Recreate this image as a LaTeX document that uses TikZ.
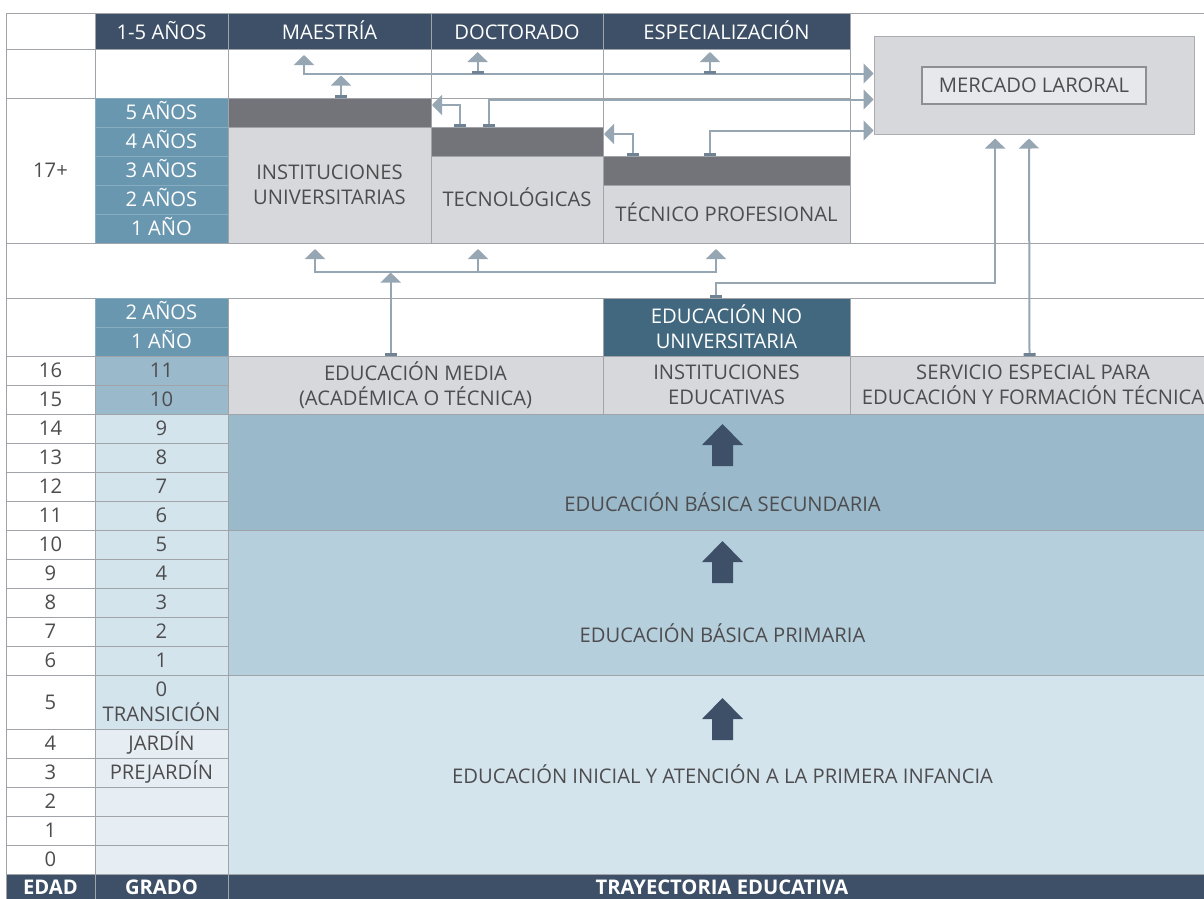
\documentclass[tikz,border=0pt]{standalone}
\usepackage{fontspec}
\setmainfont{Open Sans}
\usetikzlibrary{arrows.meta,calc}
\definecolor{navy}{HTML}{3D5068}
\definecolor{steel}{HTML}{6A97B0}
\definecolor{steelline}{HTML}{88ADC0}
\definecolor{tealc}{HTML}{42687F}
\definecolor{medblue}{HTML}{9AB9CB}
\definecolor{ltbluetwo}{HTML}{B6CFDD}
\definecolor{ltblue}{HTML}{D4E4ED}
\definecolor{vltblue}{HTML}{E6EEF4}
\definecolor{ltgray}{HTML}{D7D8DC}
\definecolor{dkgray}{HTML}{737479}
\definecolor{gridc}{HTML}{A0A3A7}
\definecolor{arrc}{HTML}{97A6B3}
\definecolor{barc}{HTML}{6F8394}
\definecolor{txtc}{HTML}{4D4D4F}
\definecolor{mercin}{HTML}{E7E8EB}
\definecolor{mercline}{HTML}{ABADB1}
\definecolor{mercinline}{HTML}{8D8F93}
\newcommand\fs{\fontsize{20.2}{25}\selectfont}
\newcommand\mkcell[7]{\node[cell,#6,minimum width={((#4)-(#2))*1pt},minimum height={((#5)-(#3))*1pt}] (#1) at ({((#2)+(#4))/2},{((#3)+(#5))/2}) {#7};}
\tikzset{
  cell/.style={draw=gridc,line width=0.8pt,inner sep=0pt,outer sep=0pt,align=center,text=txtc,font=\fs},
  one/.style={text height=14.4pt,text depth=0pt},
  steelcell/.style={fill=steel,draw=steelline,text=white,one},
  lbl/.style={text=txtc,font=\fs,inner sep=0pt},
  conn/.style={draw=arrc,line width=2pt},
  tri/.tip={Triangle[width=20pt,length=10pt]},
  tbar/.tip={Bar[width=12pt,line width=3pt,color=barc]}
}
\begin{document}
\begin{tikzpicture}[x=1pt,y=-1pt]
\useasboundingbox (0,0) rectangle (1204,898);
\fill[white] (0,0) rectangle (1204,898);
% header row
\mkcell{eHead}{6}{13}{95}{49}{fill=white}{}
\mkcell{h1}{95}{13}{228}{51}{fill=navy,text=white,one}{1-5 AÑOS}
\mkcell{hM}{228}{13}{431}{51}{fill=navy,text=white,one}{MAESTRÍA}
\mkcell{hD}{431}{13}{603}{51}{fill=navy,text=white,one}{DOCTORADO}
\mkcell{hE}{603}{13}{850}{51}{fill=navy,text=white,one}{ESPECIALIZACIÓN}
\draw[gridc,line width=0.8pt] (hE.north east) -- ++(370,0);
% second row
\mkcell{eTwo}{6}{49}{95}{98}{fill=white}{}
\mkcell{gTwo}{95}{49}{228}{98}{fill=white}{}
\mkcell{mTwo}{228}{49}{431}{98}{fill=white}{}
\mkcell{dTwo}{431}{49}{603}{98}{fill=white}{}
\mkcell{sTwo}{603}{49}{850}{98}{fill=white}{}
% 17+ block
\mkcell{age17}{6}{98}{95}{243}{fill=white,one}{17+}
\foreach \t [count=\k from 0] in {5 AÑOS,4 AÑOS,3 AÑOS,2 AÑOS,1 AÑO}
  {\mkcell{gy\k}{95}{98+29*\k}{228}{127+29*\k}{steelcell}{\t}}
\mkcell{iuBar}{228}{98}{431}{127}{fill=dkgray}{}
\mkcell{iu}{228}{127}{431}{243}{fill=ltgray}{INSTITUCIONES\\UNIVERSITARIAS}
\mkcell{wA}{431}{98}{603}{127}{fill=white}{}
\mkcell{tecBar}{431}{127}{603}{156}{fill=dkgray}{}
\mkcell{tec}{431}{156}{603}{243}{fill=ltgray,one}{TECNOLÓGICAS}
\mkcell{wB}{603}{98}{850}{156}{fill=white}{}
\mkcell{tpBar}{603}{156}{850}{185}{fill=dkgray}{}
\mkcell{tp}{603}{185}{850}{243}{fill=ltgray,one}{TÉCNICO PROFESIONAL}
% white band
\mkcell{band}{6}{243}{1216}{298}{fill=white}{}
% 298-356
\mkcell{ageNU}{6}{298}{95}{356}{fill=white}{}
\mkcell{gNa}{95}{298}{228}{327}{steelcell}{2 AÑOS}
\mkcell{gNb}{95}{327}{228}{356}{steelcell}{1 AÑO}
\mkcell{wC}{228}{298}{603}{356}{fill=white}{}
\mkcell{enu}{603}{298}{850}{356}{fill=tealc,text=white}{EDUCACIÓN NO\\UNIVERSITARIA}
\mkcell{wD}{850}{298}{1216}{356}{fill=white}{}
% 356-414
\mkcell{em}{228}{356}{603}{414}{fill=ltgray}{EDUCACIÓN MEDIA\\(ACADÉMICA O TÉCNICA)}
\mkcell{ie}{603}{356}{850}{414}{fill=ltgray}{INSTITUCIONES\\EDUCATIVAS}
\mkcell{se}{850}{356}{1216}{414}{fill=ltgray}{SERVICIO ESPECIAL PARA\\EDUCACIÓN Y FORMACIÓN TÉCNICA}
% big areas
\mkcell{bs}{228}{414}{1216}{530}{fill=medblue}{}
\mkcell{bp}{228}{530}{1216}{675}{fill=ltbluetwo}{}
\mkcell{ei}{228}{675}{1216}{874}{fill=ltblue}{}
% ages
\foreach \t [count=\k from 0] in {16,15,14,13,12,11,10,9,8,7,6}
  {\mkcell{age\t}{6}{356+29*\k}{95}{385+29*\k}{fill=white,one}{\t}}
\mkcell{age5}{6}{675}{95}{729}{fill=white,one}{5}
\foreach \t [count=\k from 0] in {4,3,2,1,0}
  {\mkcell{age\t}{6}{729+29*\k}{95}{758+29*\k}{fill=white,one}{\t}}
% grades
\mkcell{gr11}{95}{356}{228}{385}{fill=medblue,one}{11}
\mkcell{gr10}{95}{385}{228}{414}{fill=medblue,one}{10}
\foreach \t [count=\k from 0] in {9,8,7,6,5,4,3,2,1}
  {\mkcell{gr\t}{95}{414+29*\k}{228}{443+29*\k}{fill=ltblue,one}{\t}}
\mkcell{gr0}{95}{675}{228}{729}{fill=ltblue}{0\\TRANSICIÓN}
\mkcell{grJ}{95}{729}{228}{758}{fill=vltblue,one}{JARDÍN}
\mkcell{grP}{95}{758}{228}{787}{fill=vltblue,one}{PREJARDÍN}
\mkcell{grBa}{95}{787}{228}{816}{fill=vltblue}{}
\mkcell{grBb}{95}{816}{228}{845}{fill=vltblue}{}
\mkcell{grBc}{95}{845}{228}{874}{fill=vltblue}{}
% footer
\fill[navy] (6,874) rectangle (1216,898);
\mkcell{fE}{6}{874}{95}{900}{fill=navy,text=white,one,font=\fs\bfseries}{EDAD}
\mkcell{fG}{95}{874}{228}{900}{fill=navy,text=white,one,font=\fs\bfseries}{GRADO}
\mkcell{fT}{228}{874}{1216}{900}{fill=navy,text=white,one,font=\fs\bfseries}{TRAYECTORIA EDUCATIVA}
% area labels and big arrows
\node[lbl] (tBS) at (722.5,502.5) {EDUCACIÓN BÁSICA SECUNDARIA};
\node[lbl] (tBP) at (722.5,633) {EDUCACIÓN BÁSICA PRIMARIA};
\node[lbl] (tEI) at (722.5,774.5) {EDUCACIÓN INICIAL Y ATENCIÓN A LA PRIMERA INFANCIA};
\foreach \ty in {424,541,698}
  \fill[navy] (722.5,\ty) -- ++(20.5,21) -- ++(-10,0) -- ++(0,21) -- ++(-21,0) -- ++(0,-21) -- ++(-10,0) -- cycle;
% mercado
\node[draw=mercline,fill=ltgray,line width=1pt,minimum width=320pt,minimum height=98pt,inner sep=0pt] (merc) at (1034,85) {};
\node[draw=mercinline,fill=mercin,line width=1.5pt,minimum width=224pt,minimum height=37pt,inner sep=0pt,text=txtc,font=\fs] (mercIn) at (1034,85.5) {MERCADO LARORAL};
% connectors
\coordinate (pA) at ($(hM.south west)+(76,4)$);
\draw[conn,{tri}-{tri}] (pA) |- ($(merc.north west)+(0,38)$);
\draw[conn,{tbar}-{tri}] ($(hD.south west)+(46.6,23)$) -- ($(hD.south west)+(46.6,1)$);
\draw[conn,{tbar}-{tri}] ($(hE.south west)+(107,23)$) -- ($(hE.south west)+(107,1)$);
\draw[conn,{tbar}-{tri}] ($(iuBar.north west)+(113,0)$) -- ++(0,-22.5);
\draw[conn,{tbar}-{tri}] ($(tecBar.north west)+(29,0)$) |- ($(tecBar.north west)+(1,-22)$);
\draw[conn,{tbar}-{tri}] ($(tecBar.north west)+(58,0)$) |- ($(merc.north west)+(0,64)$);
\draw[conn,{tbar}-{tri}] ($(tpBar.north west)+(30,0)$) |- ($(tpBar.north west)+(1,-22)$);
\draw[conn,{tbar}-{tri}] ($(tpBar.north west)+(107,0)$) |- ($(merc.north west)+(0,95)$);
\draw[conn,{tbar}-{tri}] ($(enu.north west)+(113,0)$) -- ++(0,-15) -| ($(merc.south west)+(121.6,4)$);
\draw[conn,{tbar}-{tri}] ($(se.north west)+(179.5,0)$) -- ($(merc.south west)+(155.5,4)$);
\coordinate (kL) at ($(band.north west)+(309,6)$);
\coordinate (kJ) at ($(band.north west)+(309,28.5)$);
\coordinate (kR) at ($(band.north west)+(710,6)$);
\coordinate (kM0) at ($(band.north west)+(472,29.5)$);
\coordinate (kM) at ($(band.north west)+(472,6)$);
\draw[conn,{tri}-{tri}] (kL) -- (kJ) -| (kR);
\draw[conn,-{tri}] (kM0) -- (kM);
\draw[conn,{tbar}-{tri}] ($(em.north west)+(162.7,0)$) -- ++(0,-83.5);
\end{tikzpicture}
\end{document}
